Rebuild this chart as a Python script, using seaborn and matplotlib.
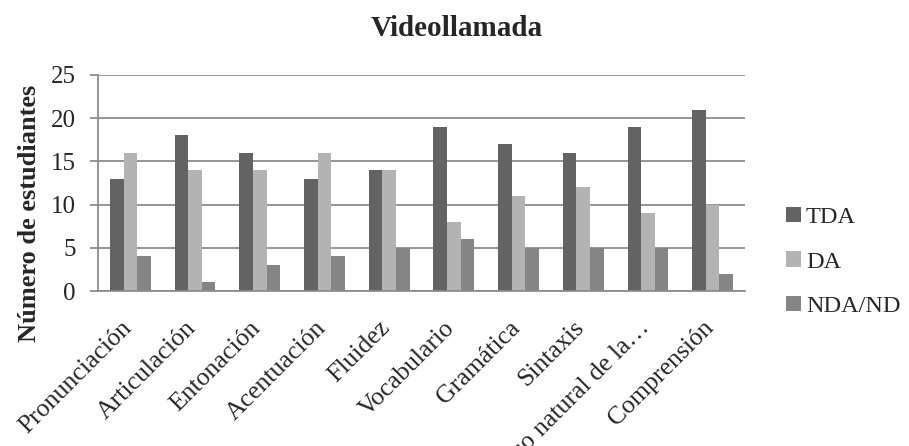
import matplotlib
matplotlib.use("Agg")
import matplotlib.pyplot as plt
import matplotlib.transforms as mtransforms
import seaborn as sns
import pandas as pd

categories = ["Pronunciación", "Articulación", "Entonación", "Acentuación", "Fluidez",
              "Vocabulario", "Gramática", "Sintaxis", "Uso natural de la…", "Comprensión"]
series = ["TDA", "DA", "NDA/ND"]
tda = [13, 18, 16, 13, 14, 19, 17, 16, 19, 21]
da = [16, 14, 14, 16, 14, 8, 11, 12, 9, 10]
nda = [4, 1, 3, 4, 5, 6, 5, 5, 5, 2]
colors = ["#636363", "#b3b3b3", "#858585"]

rows = []
for vals, s in zip([tda, da, nda], series):
    for c, v in zip(categories, vals):
        rows.append({"cat": c, "serie": s, "val": v})
df = pd.DataFrame(rows)

sns.set_theme(style="white")
plt.rcParams["font.family"] = ["Liberation Serif", "DejaVu Serif"]

fig = plt.figure(figsize=(9.09, 4.46), dpi=100)
ax = fig.add_axes([98/909, 1-291/446, (745-98)/909, (291-75)/446])
sns.barplot(data=df, x="cat", y="val", hue="serie", palette=colors, width=0.63,
            saturation=1, ax=ax, errorbar=None, edgecolor="none", linewidth=0)

ax.set_ylim(0, 25)
ax.set_yticks([0, 5, 10, 15, 20, 25])
ax.set_xlim(-0.5, len(categories) - 0.5)
ax.yaxis.grid(True, color="#8c8c8c", linewidth=1.3)
ax.set_axisbelow(True)
for s in ["top", "right"]:
    ax.spines[s].set_visible(False)
ax.spines["left"].set_color("#8c8c8c")
ax.spines["bottom"].set_color("#8c8c8c")
ax.spines["left"].set_linewidth(1.3)
ax.spines["bottom"].set_linewidth(1.3)
ax.tick_params(axis="y", left=True, length=6, width=1.3, color="#8c8c8c", labelsize=18, pad=10)
ax.tick_params(axis="x", bottom=False, labelsize=18.5, pad=9)
offset = mtransforms.ScaledTranslation(-10/100, -5/100, fig.dpi_scale_trans)
for lab in ax.get_xticklabels():
    lab.set_rotation(45)
    lab.set_ha("right")
    lab.set_rotation_mode("anchor")
    lab.set_transform(lab.get_transform() + offset)
ax.set_xlabel("")
ax.set_ylabel("Número de estudiantes", fontsize=19, fontweight="bold", labelpad=6)
ax.yaxis.set_label_coords(-0.088, 0.36)
fig.suptitle("Videollamada", x=457/909, y=1-15/446, va="top", fontsize=21, fontweight="bold")

leg = ax.legend(loc="center left", bbox_to_anchor=(1.064, 0.134), frameon=False,
                fontsize=17.5, handlelength=0.6, handleheight=0.6, handletextpad=0.2,
                labelspacing=0.95, borderaxespad=0, borderpad=0)

fig.savefig("out.png", dpi=100)
